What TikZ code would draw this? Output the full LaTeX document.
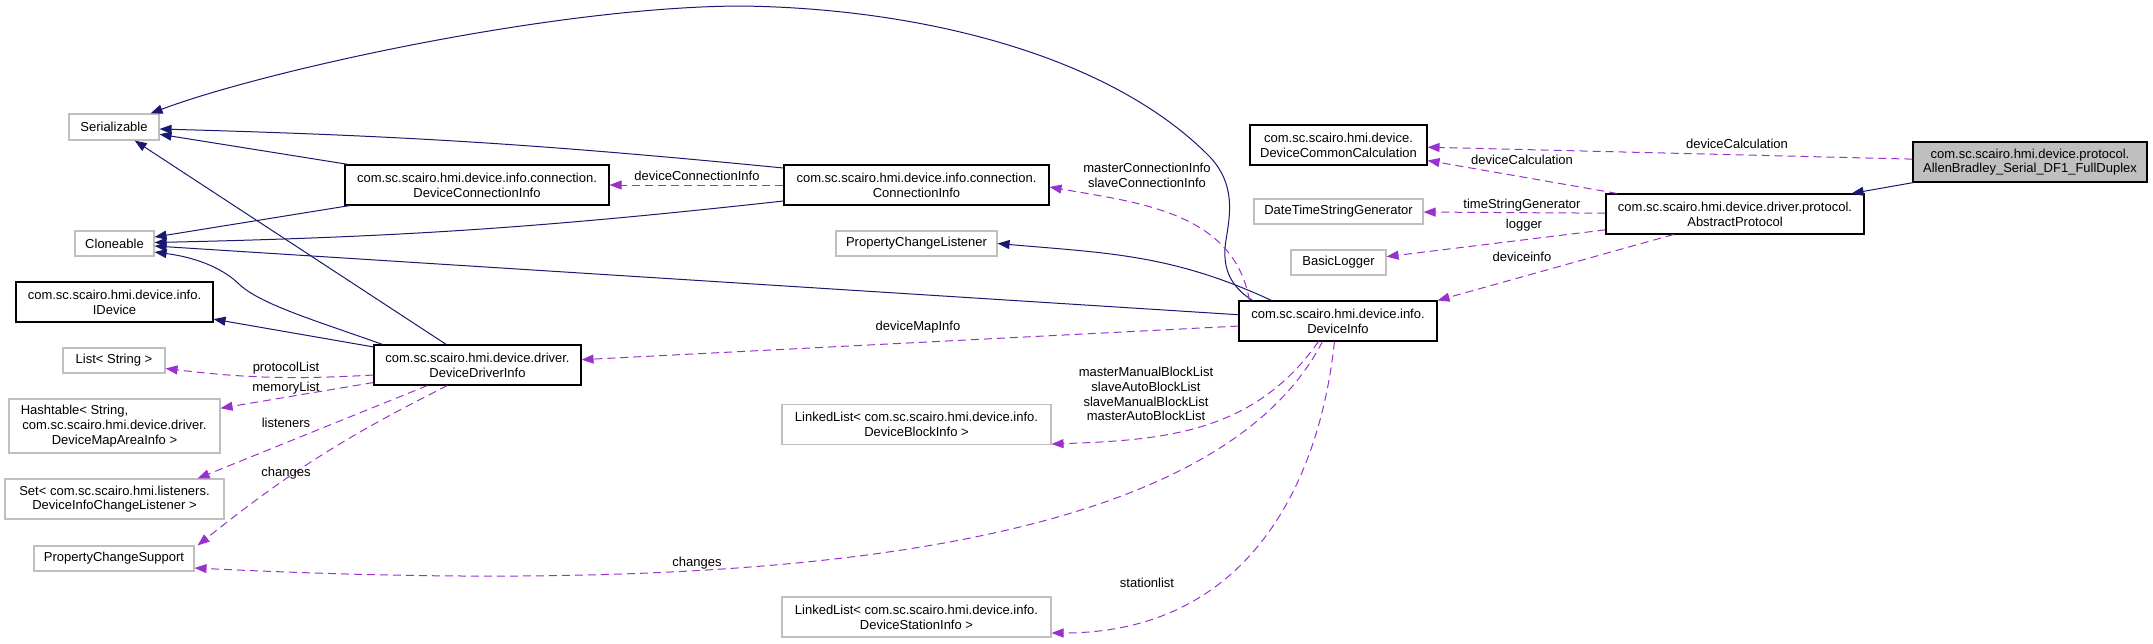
\documentclass[tikz,border=0pt]{standalone}
\usepackage{fontspec}
\setmainfont{Liberation Sans}
\usetikzlibrary{arrows.meta,calc}
\definecolor{edgeblue}{RGB}{25,25,112}
\definecolor{edgepurple}{RGB}{153,50,204}
\definecolor{boxgrey}{RGB}{191,191,191}

\begin{document}
\begin{tikzpicture}[x=1pt, y=-1pt, font=\fontsize{13}{14.7}\selectfont,
	sz/.style 2 args={minimum width=#1pt, minimum height=#2pt, inner sep=0pt, align=center, line width=1.1pt, fill=white},
	cls/.style={draw=black},
	ext/.style={draw=boxgrey},
	inh/.style={edgeblue, line width=1pt, -{Triangle[length=12pt,width=9pt]}},
	assoc/.style={edgepurple, line width=1pt, dash pattern=on 8pt off 5pt, -{Triangle[length=12pt,width=9pt]}},
	lbl/.style={inner sep=0pt, align=center}]
	\useasboundingbox (0,0) rectangle (2153,643);
	% left column
	\node[sz={90}{26}, ext] (ser) at (114,127) {Serializable};
	\node[sz={79}{25}, ext] (clo) at (114.5,243.5) {Cloneable};
	\node[sz={197}{40}, cls] (idev) at (114.5,302) {com.sc.scairo.hmi.device.info.\\IDevice};
	\node[sz={102}{25}, ext] (lst) at (114,360.5) {List< String >};
	\node[sz={211}{54}, ext] (ht) at (114.5,426) {Hashtable< String,\hspace*{80pt}\\com.sc.scairo.hmi.device.driver.\\DeviceMapAreaInfo >};
	\node[sz={219}{40}, ext] (set) at (114.5,499) {Set< com.sc.scairo.hmi.listeners.\\DeviceInfoChangeListener >};
	\node[sz={160}{25}, ext] (pcs) at (114,558.5) {PropertyChangeSupport};
	% middle
	\node[sz={264}{40}, cls] (dci) at (477,185) {com.sc.scairo.hmi.device.info.connection.\\DeviceConnectionInfo};
	\node[sz={207}{40}, cls] (ddi) at (477.5,365) {com.sc.scairo.hmi.device.driver.\\DeviceDriverInfo};
	\node[sz={265}{40}, cls] (ci) at (916.5,185) {com.sc.scairo.hmi.device.info.connection.\\ConnectionInfo};
	\node[sz={161}{25}, ext] (pcl) at (916.5,243.5) {PropertyChangeListener};
	\node[sz={269}{40}, ext] (llb) at (916.5,424.5) {LinkedList< com.sc.scairo.hmi.device.info.\\DeviceBlockInfo >};
	\node[sz={269}{40}, ext] (lls) at (916.5,617) {LinkedList< com.sc.scairo.hmi.device.info.\\DeviceStationInfo >};
	% right
	\node[sz={198}{40}, cls] (di) at (1338,321) {com.sc.scairo.hmi.device.info.\\DeviceInfo};
	\node[sz={177}{40}, cls] (dcc) at (1338.5,145) {com.sc.scairo.hmi.device.\\DeviceCommonCalculation};
	\node[sz={169}{25}, ext] (dtsg) at (1338.5,211.5) {DateTimeStringGenerator};
	\node[sz={95}{25}, ext] (bl) at (1338.5,262.5) {BasicLogger};
	\node[sz={258}{40}, cls] (ap) at (1735,214) {com.sc.scairo.hmi.device.driver.protocol.\\AbstractProtocol};
	\node[sz={234}{40}, cls, fill=boxgrey] (ab) at (2030,162) {com.sc.scairo.hmi.device.protocol.\\AllenBradley\_Serial\_DF1\_FullDuplex};

	% inheritance
	\draw[inh] (ab) -- (ap);
	\draw[inh] (dci) -- (ser);
	\draw[inh] (dci) -- (clo);
	\draw[inh] ($(ci.west)+(0,-17)$) to[bend right=2] ($(ser.east)+(0,2)$);
	\draw[inh] ($(ci.west)+(0,16)$) to[bend left=2.5] ($(clo.east)+(0,-1)$);
	\draw[inh] ($(di.north west)+(14,0)$) .. controls (1228,285) and (1222,265) .. (1226,240)
		.. controls (1230,215) and (1236,185) .. (1210,157)
		.. controls (1110,55) and (920,8) .. (740,6)
		.. controls (550,7) and (260,72) .. ($(ser.north east)+(-9,0)$);
	\draw[inh] (di) -- (clo);
	\draw[inh] ($(di.north west)+(33,0)$) to[out=155,in=-5] (pcl.east);
	\draw[inh] ($(ddi.north west)+(9,0)$) .. controls (320,322) and (262,305) .. (240,285)
		.. controls (225,270) and (200,258) .. ($(clo.east)+(0,8.5)$);
	\draw[inh] (ddi) -- (idev);
	\draw[inh] (ddi) -- (ser);

	% members
	\draw[assoc] (ab) -- (dcc);
	\draw[assoc] (ap) -- (dcc);
	\draw[assoc] (ap) -- (dtsg);
	\draw[assoc] (ap) -- (bl);
	\draw[assoc] ($(ap.south west)+(68,0)$) -- (di.north east);
	\draw[assoc] (ci) -- (dci);
	\draw[assoc] ($(di.north west)+(11,0)$) to[out=100,in=-10] ($(ci.east)+(0,2)$);
	\draw[assoc] (di) -- (ddi);
	\draw[assoc] ($(di.south west)+(80,0)$) to[out=-125,in=2] ($(llb.south east)+(0,-1)$);
	\draw[assoc] ($(di.south west)+(84,0)$) .. controls (1200,580) and (650,590) .. ($(pcs.east)+(0,9.5)$);
	\draw[assoc] ($(di.south west)+(96,0)$) .. controls (1320,480) and (1250,633) .. ($(lls.east)+(0,16)$);
	\draw[assoc] ($(ddi.west)+(0,10)$) to[bend left=5] ($(lst.east)+(0,8)$);
	\draw[assoc] (ddi) -- (ht);
	\draw[assoc] ($(ddi.south west)+(54,0)$) -- ($(set.north east)+(-27,0)$);
	\draw[assoc] ($(ddi.south west)+(74,0)$) to[bend right=6] ($(pcs.north east)+(3,0)$);

	% edge labels
	\node[lbl] (lcalc1) at (1737,144) {deviceCalculation};
	\node[lbl] (lcalc2) at (1522,160) {deviceCalculation};
	\node[lbl] (ltime) at (1522,205) {timeStringGenerator};
	\node[lbl] (llog) at (1524,225) {logger};
	\node[lbl] (linfo) at (1522,257) {deviceinfo};
	\node[lbl] (ldci) at (697,176) {deviceConnectionInfo};
	\node[lbl] (lci) at (1147,175) {masterConnectionInfo\\slaveConnectionInfo};
	\node[lbl] (lmap) at (918,327) {deviceMapInfo};
	\node[lbl] (lblock) at (1146,394) {masterManualBlockList\\slaveAutoBlockList\\slaveManualBlockList\\masterAutoBlockList};
	\node[lbl] (lchg1) at (697,563) {changes};
	\node[lbl] (lstat) at (1147,583) {stationlist};
	\node[lbl] (lproto) at (286,368) {protocolList};
	\node[lbl] (lmem) at (286,388) {memoryList};
	\node[lbl] (llis) at (286,423) {listeners};
	\node[lbl] (lchg2) at (286,473) {changes};
\end{tikzpicture}
\end{document}
